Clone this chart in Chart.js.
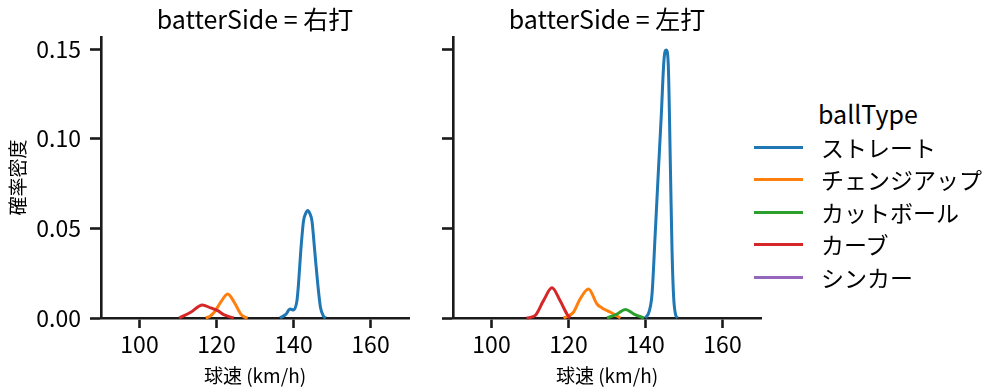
<!DOCTYPE html>
<html>
<head>
<meta charset="utf-8">
<script src="https://cdn.jsdelivr.net/npm/chart.js@4.4.1/dist/chart.umd.min.js"></script>
<style>
  body { margin: 0; background: #fff; width: 999px; height: 391px; position: relative; overflow: hidden;
         font-family: "Noto Sans CJK JP", "Noto Sans", sans-serif; color: #000; }
  canvas { position: absolute; top: 0; }
  #legend { position: absolute; left: 0; top: 0; }
  .lg-title { position: absolute; left: 818px; top: 96px; font-size: 25px; line-height: 34px; }
  .lg-item { position: absolute; left: 754px; height: 30px; }
  .lg-line { position: absolute; left: 0; top: 14px; width: 49px; height: 3px; }
  .lg-text { position: absolute; left: 67px; top: 0; font-size: 23px; line-height: 30px; white-space: nowrap; }
</style>
</head>
<body>
<canvas id="leftChart" width="420" height="391" style="left:0px"></canvas>
<canvas id="rightChart" width="420" height="391" style="left:352px"></canvas>
<div id="legend"></div>
<script>
// 球種と色
var ballTypes = ['ストレート', 'チェンジアップ', 'カットボール', 'カーブ', 'シンカー'];
var ballColors = ['#1f77b4', '#ff7f0e', '#2ca02c', '#d62728', '#9467bd'];

// 軸の目盛り
var xTicks = [100, 120, 140, 160];
var yTicks = [0, 0.05, 0.10, 0.15];

// batterSide = 右打
var rightStraightX = [136.5, 138, 139.1, 140, 140.9, 141.3, 141.9, 142.6, 143.2, 143.7, 144.2, 144.8, 145.5, 146.3, 147, 147.8, 148.4];
var rightStraightY = [0, 0.002, 0.005, 0.0045, 0.0097, 0.019, 0.0377, 0.054, 0.0585, 0.060, 0.0585, 0.054, 0.0377, 0.019, 0.006, 0.001, 0];
var rightChangeX = [117.2, 118.3, 119.4, 121.1, 122.9, 124.6, 126.3, 127.2, 128.1];
var rightChangeY = [0, 0.001, 0.0032, 0.0088, 0.0134, 0.0088, 0.0022, 0.0006, 0];
var rightCutX = [];
var rightCutY = [];
var rightCurveX = [110.3, 113.3, 116.3, 118.5, 120.3, 122, 124.5];
var rightCurveY = [0, 0.0032, 0.0073, 0.0056, 0.0041, 0.0017, 0];
var rightSinkerX = [];
var rightSinkerY = [];

// batterSide = 左打
var leftStraightX = [140, 141, 141.7, 142.5, 143.3, 144.1, 144.8, 145.4, 145.9, 146.5, 146.9, 147.3, 147.8, 148.3];
var leftStraightY = [0, 0.004, 0.0134, 0.046, 0.080, 0.113, 0.144, 0.1495, 0.142, 0.0805, 0.037, 0.012, 0.002, 0];
var leftChangeX = [118.7, 121.3, 123, 125.2, 127.4, 128.7, 130.9, 133.5];
var leftChangeY = [0, 0.0032, 0.0106, 0.0162, 0.0078, 0.0056, 0.0032, 0];
var leftCutX = [130, 132.6, 134.8, 137, 139.6];
var leftCutY = [0, 0.0022, 0.0047, 0.0022, 0];
var leftCurveX = [109.1, 111.3, 113.5, 115.7, 117.8, 119.6, 120.4];
var leftCurveY = [0, 0.0013, 0.0097, 0.0168, 0.0097, 0.0022, 0];
var leftSinkerX = [];
var leftSinkerY = [];

var axisColor = '#1a1a1a';

function toPoints(xs, ys) {
    return xs.map(function (x, i) { return { x: x, y: ys[i] }; });
}

function makeDatasets(series) {
    return series.map(function (s, i) {
        return {
            label: ballTypes[i],
            data: toPoints(s[0], s[1]),
            borderColor: ballColors[i],
            backgroundColor: ballColors[i],
            borderWidth: 3,
            pointRadius: 0,
            cubicInterpolationMode: 'monotone',
            clip: false,
            order: -i
        };
    });
}

function makeChart(id, title, series, showY) {
    var ctx = document.getElementById(id).getContext('2d');
    return new Chart(ctx, {
        type: 'line',
        data: { datasets: makeDatasets(series) },
        options: {
            responsive: false,
            animation: false,
            devicePixelRatio: 1,
            layout: { padding: { left: 0, right: 11, top: 0, bottom: 0 } },
            plugins: {
                legend: { display: false },
                tooltip: { enabled: false },
                title: {
                    display: true,
                    text: title,
                    fullSize: false,
                    color: '#000',
                    font: { family: '"Noto Sans CJK JP"', size: 25, weight: 'normal', lineHeight: 1.2 },
                    padding: { top: 4, bottom: 3 }
                }
            },
            scales: {
                x: {
                    type: 'linear',
                    min: 90,
                    max: 170,
                    afterBuildTicks: function (scale) { scale.ticks = xTicks.map(function (v) { return { value: v }; }); },
                    afterFit: function (scale) { scale.height = 73; },
                    grid: { display: true, drawOnChartArea: false, drawTicks: true, tickLength: 10, tickWidth: 2.6, tickColor: axisColor },
                    border: { display: true, color: axisColor, width: 2.6 },
                    ticks: { color: '#000', padding: 2, maxRotation: 0, font: { family: '"Noto Sans CJK JP"', size: 23 } },
                    title: { display: true, text: '球速 (km/h)', color: '#000', padding: { top: 0, bottom: 4 },
                             font: { family: '"Noto Sans CJK JP"', size: 19 } }
                },
                y: {
                    type: 'linear',
                    min: 0,
                    max: 0.1567,
                    afterBuildTicks: function (scale) { scale.ticks = yTicks.map(function (v) { return { value: v }; }); },
                    afterFit: function (scale) { scale.width = 101; },
                    grid: { display: true, drawOnChartArea: false, drawTicks: true, tickLength: 11, tickWidth: 2.6, tickColor: axisColor },
                    border: { display: true, color: axisColor, width: 2.6 },
                    ticks: {
                        display: showY,
                        color: '#000',
                        padding: 9,
                        font: { family: '"Noto Sans CJK JP"', size: 23 },
                        callback: function (v) { return Number(v).toFixed(2); }
                    },
                    title: { display: showY, text: '確率密度', color: '#000', padding: { top: 6, bottom: 0 },
                             font: { family: '"Noto Sans CJK JP"', size: 19 } }
                }
            }
        }
    });
}

makeChart('leftChart', 'batterSide = 右打', [
    [rightStraightX, rightStraightY],
    [rightChangeX, rightChangeY],
    [rightCutX, rightCutY],
    [rightCurveX, rightCurveY],
    [rightSinkerX, rightSinkerY]
], true);

makeChart('rightChart', 'batterSide = 左打', [
    [leftStraightX, leftStraightY],
    [leftChangeX, leftChangeY],
    [leftCutX, leftCutY],
    [leftCurveX, leftCurveY],
    [leftSinkerX, leftSinkerY]
], false);

// 凡例
var legend = document.getElementById('legend');
var html = '<div class="lg-title">ballType</div>';
ballTypes.forEach(function (name, i) {
    var top = 132 + i * 32.4;
    html += '<div class="lg-item" style="top:' + top + 'px">' +
        '<div class="lg-line" style="background:' + ballColors[i] + '"></div>' +
        '<div class="lg-text">' + name + '</div></div>';
});
legend.innerHTML = html;
</script>
</body>
</html>
